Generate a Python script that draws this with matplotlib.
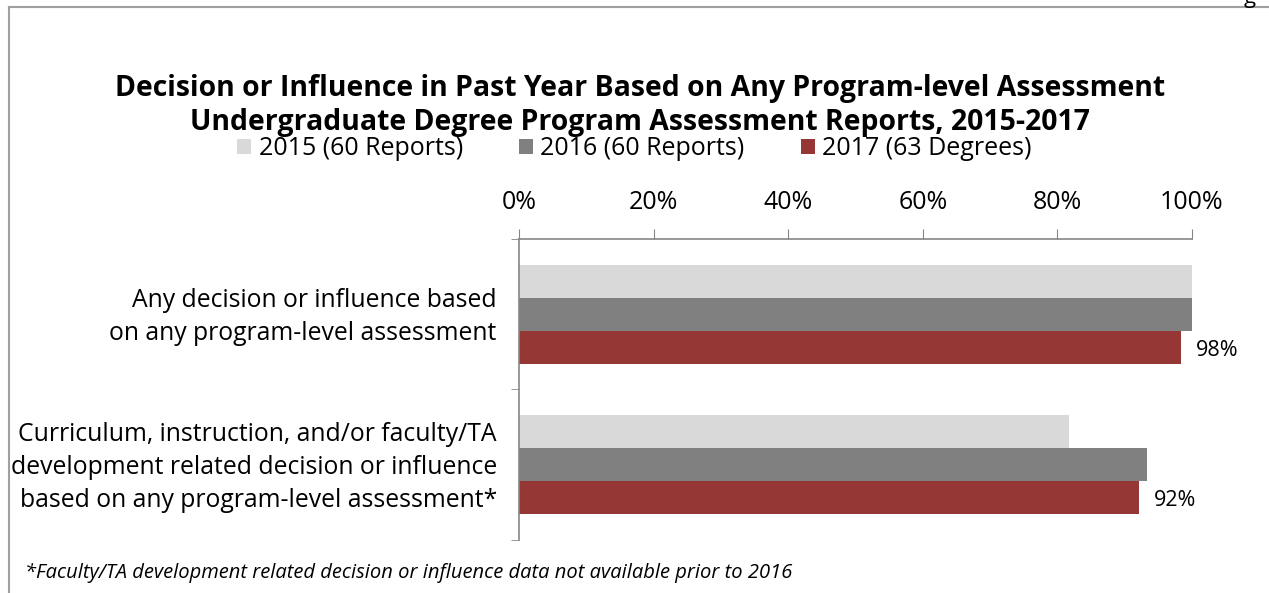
import matplotlib
matplotlib.use("Agg")
import matplotlib.pyplot as plt
from matplotlib.patches import Patch
from matplotlib.lines import Line2D
from matplotlib.transforms import ScaledTranslation

# Datos
categorias = [
    "Any decision or influence based\non any program-level assessment",
    "Curriculum, instruction, and/or faculty/TA\ndevelopment related decision or influence\nbased on any program-level assessment*",
]
series = ["2015 (60 Reports)", "2016 (60 Reports)", "2017 (63 Degrees)"]
valores_2015 = [100, 81.7]
valores_2016 = [100, 93.3]
valores_2017 = [98.4, 92.1]
etiquetas_2017 = ["98%", "92%"]
ticks_x = [0, 20, 40, 60, 80, 100]
colores = ["#D9D9D9", "#808080", "#953735"]

plt.rcParams['font.family'] = ['Open Sans', 'DejaVu Sans']

fig = plt.figure(figsize=(12.69, 5.93), dpi=100)
ax = fig.add_axes([0.409, 0.0894, 0.5303, 0.5076])

alto = 0.22
desplaz = [-alto, 0, alto]
for i, vals in enumerate([valores_2015, valores_2016, valores_2017]):
    pos = [k + desplaz[i] for k in range(len(categorias))]
    ax.barh(pos, vals, height=alto, color=colores[i], edgecolor='none')

# etiquetas de 2017
for k, v in enumerate(valores_2017):
    ax.text(v + 2.2, k + alto + 0.02, etiquetas_2017[k], va='center', ha='left', fontsize=15.5)

ax.set_xlim(0, 100)
ax.set_ylim(1.5, -0.5)
ax.xaxis.tick_top()
ax.set_xticks(ticks_x)
ax.set_xticklabels([f"{t}%" for t in ticks_x], fontsize=18)
ax.tick_params(axis='x', length=7, color='#868686', pad=10)

ax.set_yticks(range(len(categorias)))
ax.set_yticklabels(categorias, fontsize=17.8, linespacing=1.42)
ax.tick_params(axis='y', length=0, pad=16)
ax.set_yticks([-0.5, 0.5, 1.5], minor=True)
ax.tick_params(axis='y', which='minor', length=6, color='#868686')
# subir un poco las etiquetas de categoría
for lbl in ax.get_yticklabels():
    lbl.set_transform(lbl.get_transform() + ScaledTranslation(0, 0.04, fig.dpi_scale_trans))

for s in ['right', 'bottom']:
    ax.spines[s].set_visible(False)
for s in ['left', 'top']:
    ax.spines[s].set_color('#868686')
    ax.spines[s].set_linewidth(1.2)

# título
fig.text(0.504, 0.822,
         "Decision or Influence in Past Year Based on Any Program-level Assessment\n"
         "Undergraduate Degree Program Assessment Reports, 2015-2017",
         ha='center', va='center', fontsize=20.4, fontweight='bold', linespacing=1.24)

# leyenda
manejadores = [Patch(facecolor=c, edgecolor='none') for c in colores]
fig.legend(manejadores, series, loc='center', bbox_to_anchor=(0.5, 0.749), ncol=3,
           frameon=False, fontsize=18, handlelength=0.55, handleheight=0.55,
           handletextpad=0.3, columnspacing=2.25)

# nota al pie
fig.text(0.02, 0.033, "*Faculty/TA development related decision or influence data not available prior to 2016",
         ha='left', va='center', fontsize=14.5, style='italic')

# marco
fig.add_artist(Line2D([9 / 1269, 1.0], [1 - 7 / 593, 1 - 7 / 593], color='#A0A0A0', lw=1.5))
fig.add_artist(Line2D([9 / 1269, 9 / 1269], [0, 1 - 7 / 593], color='#A0A0A0', lw=1.5))
fig.text(0.985, 1 - 3 / 593, "g", ha='center', va='baseline', fontsize=16)

fig.savefig("out.png", dpi=100)
